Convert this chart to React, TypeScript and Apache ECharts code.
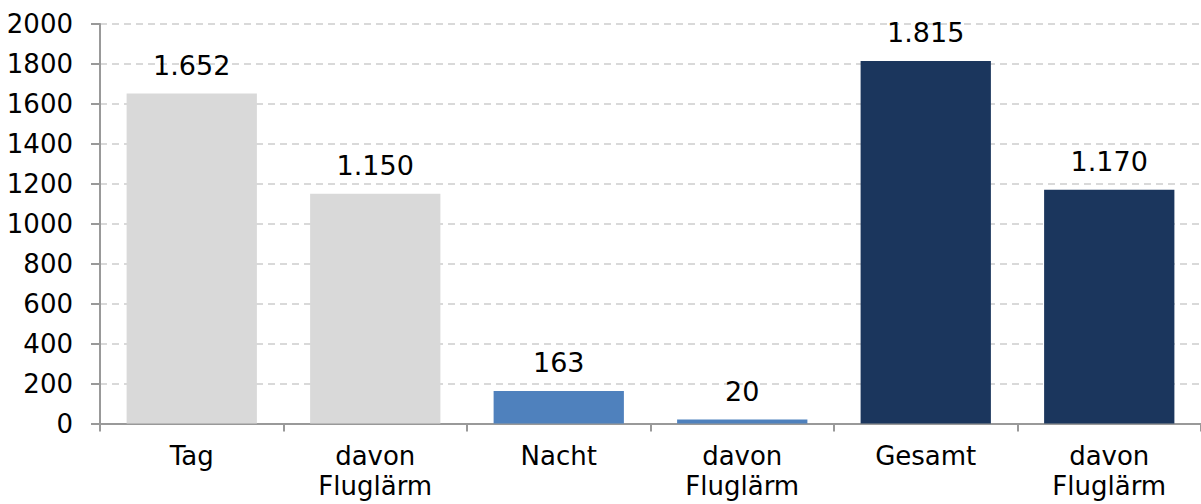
import React, { useEffect, useRef } from "react";
import * as echarts from "echarts";

const categories = ["Tag", "davon\nFluglärm", "Nacht", "davon\nFluglärm", "Gesamt", "davon\nFluglärm"];
const values = [1652, 1150, 163, 20, 1815, 1170];
const barColors = ["#d9d9d9", "#d9d9d9", "#4f81bd", "#4f81bd", "#1b365d", "#1b365d"];

const fmt = (v: number) => {
  const s = String(Math.round(v));
  return s.replace(/\B(?=(\d{3})+(?!\d))/g, ".");
};

export default function App() {
  const ref = useRef<HTMLDivElement>(null);
  useEffect(() => {
    if (!ref.current) return;
    const chart = echarts.init(ref.current, undefined, { renderer: "svg" });
    const font = "'DejaVu Sans', Verdana, sans-serif";
    chart.setOption({
      animation: false,
      grid: { left: 100, right: 0, top: 24, bottom: 80.5, containLabel: false, outerBoundsMode: "none" },
      xAxis: {
        type: "category",
        data: categories,
        axisLine: { lineStyle: { color: "#999999", width: 2 } },
        axisTick: { show: true, length: 8, lineStyle: { color: "#999999", width: 2 }, alignWithLabel: false },
        axisLabel: { color: "#000", fontFamily: font, fontSize: 26, margin: 17, lineHeight: 30, interval: 0 },
      },
      yAxis: {
        type: "value",
        min: 0,
        max: 2000,
        interval: 200,
        axisLine: { show: true, lineStyle: { color: "#999999", width: 2 } },
        axisTick: { show: true, length: 9, lineStyle: { color: "#999999", width: 2 } },
        axisLabel: { color: "#000", fontFamily: font, fontSize: 26, margin: 27, formatter: (v: number) => String(v) },
        splitLine: { show: true, lineStyle: { color: "#d9d9d9", type: [7, 5], width: 2 } },
      },
      series: [
        {
          type: "bar",
          barWidth: "71%",
          data: values.map((v, i) => ({ value: v, itemStyle: { color: barColors[i] } })),
          label: {
            show: true,
            position: "top",
            distance: 15,
            color: "#000",
            fontFamily: font,
            fontSize: 27,
            formatter: (p: any) => fmt(p.value),
          },
        },
      ],
    });
    return () => chart.dispose();
  }, []);
  return <div ref={ref} style={{ width: 1201, height: 504, position: "absolute", left: 0, top: 0 }} />;
}
